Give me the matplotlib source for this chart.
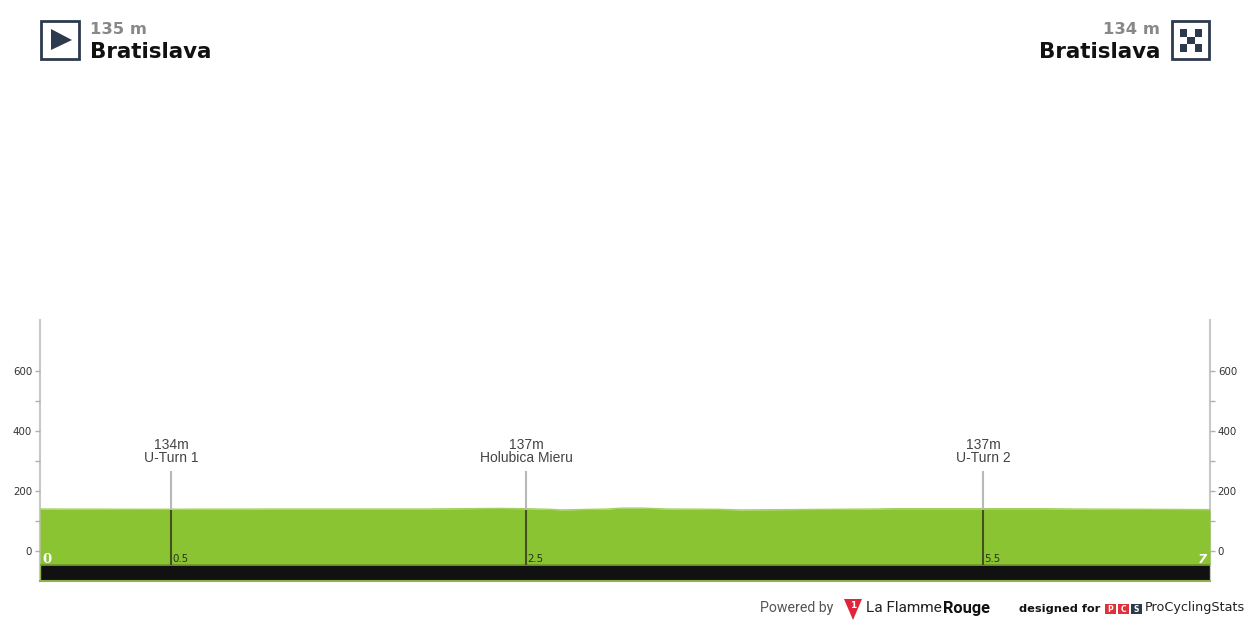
import matplotlib
matplotlib.use("Agg")
import matplotlib.pyplot as plt
from matplotlib.patches import Rectangle, Polygon

# profile, km / metres
km = [0, 0.6, 1.5, 2.3, 2.75, 2.9, 3.05, 3.12, 3.4, 3.48, 3.6, 3.75, 4.05, 4.19, 4.5, 5.0, 5.1, 6.0, 6.2, 6.6, 7]
elev = [140, 139, 140, 140, 142, 141, 139, 137, 140, 143, 143, 140, 139, 137, 138, 140, 141, 141, 140, 139, 138]

marker_km = [0.784, 2.908, 5.642]
marker_elev = [134, 137, 137]
marker_names = ["U-Turn 1", "Holubica Mieru", "U-Turn 2"]
marker_ticks = ["0.5", "2.5", "5.5"]

y_ticks = [0, 100, 200, 300, 400, 500, 600]
y_labels = ["0", "", "200", "", "400", "", "600"]

start_name = "Bratislava"
start_alt = "135 m"
finish_name = "Bratislava"
finish_alt = "134 m"

W, H = 1250, 625
NAVY = "#2d3a4d"
GREEN = "#8bc432"

fig = plt.figure(figsize=(W / 100, H / 100), dpi=100)
plt.rcParams["font.family"] = "DejaVu Sans"

ax = fig.add_axes([40 / W, 1 - 581 / H, 1170 / W, 261 / H])
ax.set_xlim(0, 7)
ax.set_ylim(-100, 770)
ax.patch.set_visible(False)

ax.fill_between(km, -47, elev, color=GREEN, lw=0, zorder=1)
ax.plot(km, elev, color="#a4d160", lw=1, zorder=2)
ax.fill_between([0, 7], -100, -47, color="#111111", lw=0, zorder=2)
ax.plot([0, 7], [-47, -47], color="#6f9a2a", lw=1.3, zorder=3)
ax.plot([0, 7], [-100, -100], color="#8fb04a", lw=1.5, zorder=3, clip_on=False)
ax.plot([0, 0], [-100, -47], color="#8fb04a", lw=1, zorder=3)
ax.plot([7, 7], [-100, -47], color="#8fb04a", lw=1, zorder=3)

for x, e, name, tick in zip(marker_km, marker_elev, marker_names, marker_ticks):
    ax.plot([x, x], [136, 267], color="#b8b8b8", lw=1.5, zorder=3, solid_capstyle="butt")
    ax.plot([x, x], [-47, 136], color="#44511f", lw=1.5, zorder=3, solid_capstyle="butt")
    ax.text(x, 353, f"{e}m", ha="center", va="center", fontsize=10, color="#444444",
            family="Liberation Sans")
    ax.text(x, 310, name, ha="center", va="center", fontsize=10, color="#444444",
            family="Liberation Sans")
    ax.text(x + 0.008, -28, tick, ha="left", va="center", fontsize=7.4, color="#26331a", zorder=4)

ax.text(0.012, -27, "0", ha="left", va="center", fontsize=9.5, color="white", weight="bold",
        family="DejaVu Serif", zorder=4)
ax.text(6.985, -27, "7", ha="right", va="center", fontsize=9.5, color="white", weight="bold",
        style="italic", zorder=4)

ax.set_xticks([])
ax.set_yticks(y_ticks)
ax.set_yticklabels(y_labels, fontsize=7.4, color="#333333")
ax.tick_params(axis="y", left=True, right=True, labelleft=True, labelright=True,
               length=3.6, width=1, color="#b0b0b0", pad=2)
for side in ["top", "bottom"]:
    ax.spines[side].set_visible(False)
for side in ["left", "right"]:
    ax.spines[side].set_color("#c8c8c8")
    ax.spines[side].set_linewidth(1.5)
    ax.spines[side].set_zorder(0)

# header and footer, drawn in pixel coordinates
over = fig.add_axes([0, 0, 1, 1])
over.set_xlim(0, W)
over.set_ylim(H, 0)
over.axis("off")

over.add_patch(Rectangle((41, 21), 38, 38, fc="white", ec=NAVY, lw=2))
over.add_patch(Polygon([(51, 29), (51, 50), (72, 40)], fc=NAVY, ec="none"))
over.add_patch(Rectangle((1172, 21), 37, 38, fc="white", ec=NAVY, lw=2))
for row in range(3):
    for col in range(3):
        if (row + col) % 2 == 0:
            over.add_patch(Rectangle((1179.5 + col * 7.5, 29 + row * 7.5), 7.5, 7.5, fc=NAVY, ec="none"))

over.text(90, 29, start_alt, ha="left", va="center", fontsize=11.8, weight="bold", color="#888888")
over.text(90, 52, start_name, ha="left", va="center", fontsize=15.4, weight="bold", color="#111111")
over.text(1160, 29, finish_alt, ha="right", va="center", fontsize=11.8, weight="bold", color="#888888")
over.text(1160, 52, finish_name, ha="right", va="center", fontsize=15.4, weight="bold", color="#111111")

over.text(760, 608, "Powered by", ha="left", va="center", fontsize=10.2, color="#555555", family="Roboto")
over.add_patch(Polygon([(844, 599), (862, 599), (853, 620)], fc="#e0243a", ec="none"))
over.text(853, 605, "1", ha="center", va="center", fontsize=6.5, color="white", weight="bold")
over.text(866, 608, "La Flamme", ha="left", va="center", fontsize=11.1, color="#222222", family="Roboto")
over.text(943, 608, "Rouge", ha="left", va="center", fontsize=11.8, color="#111111", family="Roboto", weight="bold")
over.text(1019, 609, "designed for", ha="left", va="center", fontsize=8.2, color="#111111", weight="bold",
          family="DejaVu Sans")
for x0, letter, col in [(1105, "P", "#e0303a"), (1118, "C", "#e0303a"), (1131, "S", NAVY)]:
    over.add_patch(Rectangle((x0, 604), 10.5, 10, fc=col, ec="none"))
    over.text(x0 + 5.2, 609, letter, ha="center", va="center", fontsize=5.5, color="white", weight="bold")
over.text(1145, 608, "ProCyclingStats", ha="left", va="center", fontsize=9.2, color="#222222", family="DejaVu Sans")

fig.savefig("out.png", dpi=100)
